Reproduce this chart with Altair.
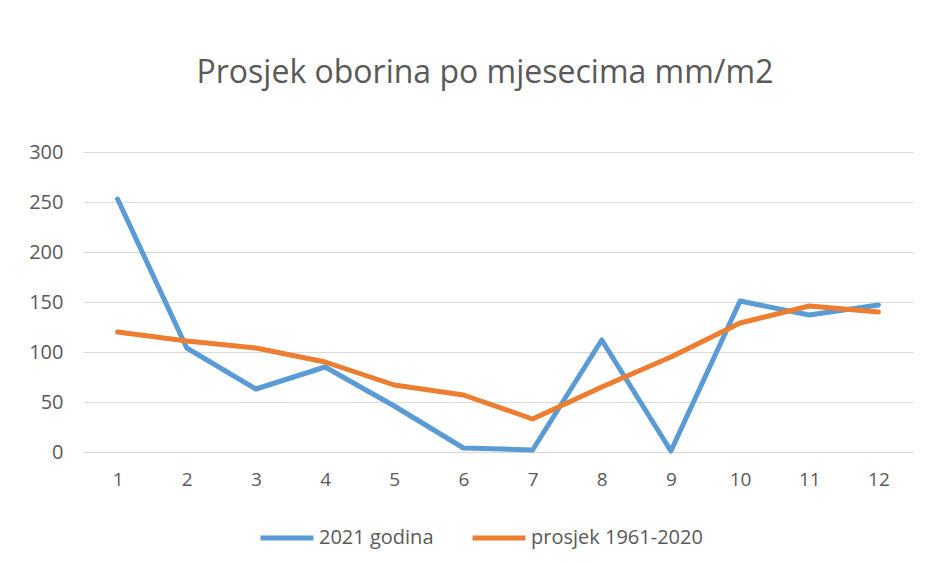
import altair as alt
import pandas as pd

months = [str(m) for m in range(1, 13)]
series_2021 = [253, 104, 63, 85, 46, 4, 2, 112, 1, 151, 137, 147]
series_avg = [120, 111, 104, 90, 67, 57, 33, 65, 95, 129, 146, 140]
series_names = ["2021 godina", "prosjek 1961-2020"]
y_ticks = [0, 50, 100, 150, 200, 250, 300]

rows = []
for m, v in zip(months, series_2021):
    rows.append({"mjesec": m, "vrijednost": v, "serija": series_names[0]})
for m, v in zip(months, series_avg):
    rows.append({"mjesec": m, "vrijednost": v, "serija": series_names[1]})
df = pd.DataFrame(rows)

FONT = "Open Sans"
TXT = "#595959"
GRID = "#d9d9d9"

chart = alt.Chart(df).mark_line(strokeWidth=5, strokeJoin="round", strokeCap="round").encode(
    x=alt.X("mjesec:O", sort=months, scale=alt.Scale(type="point", padding=0.5),
            axis=alt.Axis(title=None, labelAngle=0, ticks=False, domain=True, domainColor=GRID,
                          domainWidth=1, labelPadding=18, grid=False,
                          labelFont=FONT, labelFontSize=19, labelColor=TXT)),
    y=alt.Y("vrijednost:Q", scale=alt.Scale(domain=[0, 300], nice=False),
            axis=alt.Axis(title=None, values=y_ticks, ticks=False, domain=False, grid=True,
                          gridColor=GRID, gridWidth=1.2, labelPadding=20,
                          labelFont=FONT, labelFontSize=20, labelColor=TXT)),
    color=alt.Color("serija:N", scale=alt.Scale(domain=series_names, range=["#5B9BD5", "#ED7D31"]),
                    legend=alt.Legend(title=None, orient="none", legendX=175, legendY=357,
                                      direction="horizontal", symbolType="stroke",
                                      symbolSize=2800, symbolStrokeWidth=5, labelOffset=3,
                                      columnPadding=28, labelFontSize=20, labelColor=TXT,
                                      labelFont=FONT, labelLimit=400)),
).properties(
    width=830, height=300,
    title=alt.TitleParams("Prosjek oborina po mjesecima mm/m2", fontSize=32, font=FONT,
                          fontWeight="normal", color=TXT, anchor="middle", offset=52, dx=-13),
    padding={"left": 75, "top": 144, "right": 9, "bottom": 105},
    autosize=alt.AutoSizeParams(type="none"),
    background="white",
).configure_view(stroke=None)

chart.save("out.html", embed_options={"renderer": "svg", "actions": False})
